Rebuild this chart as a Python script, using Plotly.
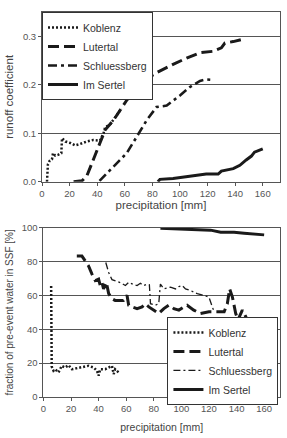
import plotly.graph_objects as go

# ---- top panel: runoff coefficient vs precipitation ----
kob_top_x = [3.6, 4.3, 5.5, 7.2, 8.0, 9.6, 12, 14, 14.5, 17, 20.5, 24, 27.7, 32.5, 37, 42, 44.6, 45.8, 49, 53, 56.6, 58]
kob_top_y = [0.0, 0.036, 0.043, 0.046, 0.059, 0.054, 0.056, 0.059, 0.09, 0.083, 0.08, 0.075, 0.078, 0.083, 0.086, 0.085, 0.10, 0.113, 0.117, 0.134, 0.147, 0.15]
lut_top_x = [22.9, 29, 32.5, 37, 42, 45.8, 51.8, 61.4, 68.7, 73.5, 83, 95, 104.8, 114.5, 124, 130, 132.5, 138.6, 147]
lut_top_y = [0.0, 0.002, 0.012, 0.046, 0.08, 0.107, 0.127, 0.168, 0.195, 0.208, 0.225, 0.242, 0.255, 0.266, 0.269, 0.276, 0.286, 0.289, 0.295]
sch_top_x = [41.7, 51.8, 61.4, 68.7, 75.9, 83, 90.4, 100, 107, 114.5, 119, 124]
sch_top_y = [0.002, 0.032, 0.059, 0.093, 0.127, 0.154, 0.157, 0.178, 0.195, 0.208, 0.211, 0.21]
ims_top_x = [84, 85.5, 95, 109.6, 119, 127.7, 130, 138.6, 143.4, 148, 151.8, 154, 160]
ims_top_y = [0.0, 0.005, 0.007, 0.012, 0.016, 0.016, 0.022, 0.027, 0.034, 0.045, 0.053, 0.061, 0.068]

# ---- bottom panel: fraction of pre-event water in SSF ----
kob_bot_x = [5.6, 5.6, 6.0, 7.3, 8.5, 10.9, 13.3, 15.8, 18.2, 20.6, 24.2, 29, 32.7, 36.4, 38.8, 40, 41.2, 44.8, 47.3, 49.7, 50.9, 52, 54.5]
kob_bot_y = [65.5, 30, 18, 15.5, 16.4, 14.5, 18.4, 17.4, 18.8, 16.4, 17, 17.4, 18.4, 17.4, 15.5, 12.6, 16.4, 16.4, 17.4, 18.4, 13.5, 16.4, 14.5]
lut_bot_x = [24.2, 27.9, 30.3, 32.7, 35.2, 37.6, 40, 41.2, 42.4, 43.6, 45.6, 47.3, 49.7, 52, 54.5, 58, 60.6, 61.8, 64.2, 67.9, 71.5, 73.9, 76.4, 80, 83.6, 87.3, 90.9, 94.5, 98.2, 101.8, 104.2, 109, 113.9, 120, 126, 131, 133.3, 135, 137, 139.4, 141, 143, 144.2, 146.7, 147.9]
lut_bot_y = [83.2, 83.2, 80.3, 77.4, 72.5, 68.7, 69.6, 65.8, 67.7, 63.8, 67.7, 61, 58, 57, 57, 57, 60, 54.2, 53.2, 52.2, 53.2, 55, 53.2, 51.3, 49.3, 52.2, 54.2, 52.2, 51.3, 53.2, 54.2, 51.3, 49.3, 50.3, 50.3, 50.3, 55, 63.8, 59, 49.3, 45.5, 49.3, 51.3, 47.4, 44.5]
sch_bot_x = [45.2, 47.3, 49.7, 55.8, 59.4, 61.8, 65.5, 67.9, 70.3, 72.7, 75.2, 76.8, 77.6, 81.2, 83.6, 84.8, 87.3, 92.1, 95.8, 98.2, 100.6, 103, 106.7, 111.5, 116.4, 120, 122.4, 123.6]
sch_bot_y = [79.4, 73.5, 69.3, 67.5, 65.8, 67.7, 66.3, 65.8, 67.1, 65.8, 66.7, 66.3, 55.1, 54.2, 55.1, 66.7, 63.8, 64.8, 63.8, 65.2, 65.8, 63.8, 62.8, 61, 60, 59, 53.2, 50.8]
ims_bot_x = [84.8, 94.5, 113.9, 121.2, 128.5, 138.2, 145.5, 160]
ims_bot_y = [99.6, 99.2, 98.6, 98.5, 97.3, 97.3, 96.7, 95.7]

names = ["Koblenz", "Lutertal", "Schluessberg", "Im Sertel"]
ink = "#1a1a1a"

fig = go.Figure()

def add(x, y, name, dash, width, xa, ya, leg):
    fig.add_trace(go.Scatter(x=x, y=y, name=name, mode="lines",
                             line=dict(color=ink, width=width, dash=dash),
                             xaxis=xa, yaxis=ya, legend=leg))

add(kob_top_x, kob_top_y, names[0], "2px,2px", 2.5, "x", "y", "legend")
add(lut_top_x, lut_top_y, names[1], "11px,5px", 3, "x", "y", "legend")
add(sch_top_x, sch_top_y, names[2], "9px,4px,3px,4px", 2.6, "x", "y", "legend")
add(ims_top_x, ims_top_y, names[3], "solid", 3, "x", "y", "legend")

add(kob_bot_x, kob_bot_y, names[0], "2px,2px", 2.5, "x2", "y2", "legend2")
add(lut_bot_x, lut_bot_y, names[1], "11px,5px", 3, "x2", "y2", "legend2")
add(sch_bot_x, sch_bot_y, names[2], "7px,3px,2px,3px", 1.3, "x2", "y2", "legend2")
add(ims_bot_x, ims_bot_y, names[3], "solid", 3, "x2", "y2", "legend2")

axcol = "#555555"
tickfont = dict(family="Liberation Sans, Arial, sans-serif", size=9.5, color="#555555")
titlefont = dict(family="Liberation Sans, Arial, sans-serif", size=11.5, color="#444444")

common_x = dict(showline=True, linecolor=axcol, linewidth=1, mirror=True, ticks="outside",
                ticklen=3, tickcolor=axcol, tickfont=tickfont, showgrid=False, zeroline=False,
                dtick=20, tick0=0)
common_y = dict(showline=True, linecolor=axcol, linewidth=1, mirror=True, ticks="outside",
                ticklen=3, tickcolor=axcol, tickfont=tickfont, showgrid=True, gridcolor="#555555",
                gridwidth=1, zeroline=False)

legfont = dict(family="Liberation Sans, Arial, sans-serif", size=10.5, color="#333333")

fig.update_layout(
    width=287, height=438,
    margin=dict(l=42, r=6, t=10, b=36),
    paper_bgcolor="white", plot_bgcolor="white",
    font=dict(family="Liberation Sans, Arial, sans-serif", color="#333333"),
    xaxis=dict(common_x, domain=[0, 1], range=[0, 172.5], anchor="y",
               title=dict(text="precipitation [mm]", font=titlefont, standoff=2)),
    yaxis=dict(common_y, domain=[0.559, 1], range=[0, 0.35], anchor="x",
               tickvals=[0, 0.1, 0.2, 0.3], ticktext=["0.0", "0.1", "0.2", "0.3"],
               title=dict(text="runoff coefficient", font=titlefont, standoff=6)),
    xaxis2=dict(common_x, domain=[0.006, 1], range=[0, 171.5], anchor="y2",
                title=dict(text="precipitation [mm]", font=dict(titlefont, size=10.5), standoff=10)),
    yaxis2=dict(common_y, domain=[0, 0.44], range=[0, 100], anchor="x2", dtick=20,
                title=dict(text="fraction of pre-event water in SSF [%]",
                           font=dict(titlefont, size=10), standoff=6)),
    legend=dict(x=0, y=1, xanchor="left", yanchor="top", bgcolor="white",
                bordercolor="#333333", borderwidth=1, font=legfont,
                tracegroupgap=0, itemwidth=30),
    legend2=dict(x=0.527, y=0.208, xanchor="left", yanchor="top", bgcolor="white",
                 bordercolor="#333333", borderwidth=1, font=legfont,
                 tracegroupgap=0, itemwidth=30),
)

fig.write_html("out.html")
